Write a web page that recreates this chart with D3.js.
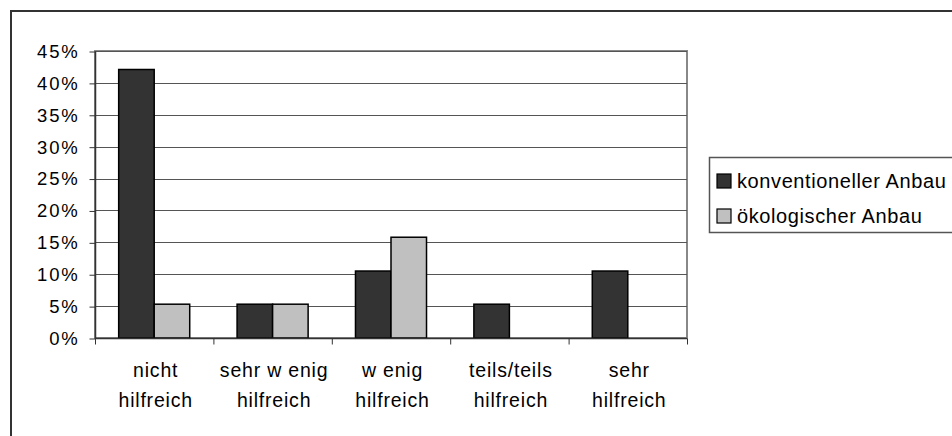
<!DOCTYPE html>
<html>
<head>
<meta charset="utf-8">
<script src="https://cdn.jsdelivr.net/npm/d3@7"></script>
<style>
  html, body { margin: 0; padding: 0; background: #fff; }
  svg { display: block; }
  text { font-family: Arial, "Liberation Sans", sans-serif; fill: #000; }
</style>
</head>
<body>
<svg id="chart" width="952" height="436"></svg>
<script>
const categories = [["nicht", "hilfreich"], ["sehr w enig", "hilfreich"], ["w enig", "hilfreich"], ["teils/teils", "hilfreich"], ["sehr", "hilfreich"]];
const seriesNames = ["konventioneller Anbau", "ökologischer Anbau"];
const konventionell = [42.1, 5.3, 10.5, 5.3, 10.5];
const oekologisch = [5.3, 5.3, 15.8, 0, 0];
const yTicks = [0, 5, 10, 15, 20, 25, 30, 35, 40, 45];
const colors = ["#333333", "#c0c0c0"];

const svg = d3.select("#chart");
const W = 952, H = 436;
const plot = { left: 95, right: 687, top: 51, bottom: 338 };

// outer chart border
svg.append("rect").attr("x", 11).attr("y", 11).attr("width", W + 20).attr("height", H + 20)
  .attr("fill", "#fff").attr("stroke", "#333").attr("stroke-width", 2);

const idx = d3.range(categories.length);
const x0 = d3.scaleBand().domain(idx).range([plot.left, plot.right]).paddingInner(0).paddingOuter(0);
const x1 = d3.scaleBand().domain([0, 1]).range([x0.bandwidth() * 0.2, x0.bandwidth() * 0.8]).padding(0);
const y = d3.scaleLinear().domain([0, 45]).range([plot.bottom, plot.top]);

// plot area border
svg.append("rect").attr("x", plot.left).attr("y", plot.top)
  .attr("width", plot.right - plot.left).attr("height", plot.bottom - plot.top)
  .attr("fill", "none").attr("stroke", "#888").attr("stroke-width", 2);

// gridlines
svg.append("g").selectAll("line").data(yTicks.filter(d => d > 0)).join("line")
  .attr("x1", plot.left).attr("x2", plot.right)
  .attr("y1", d => Math.round(y(d)) + 0.5).attr("y2", d => Math.round(y(d)) + 0.5)
  .attr("stroke", "#555").attr("stroke-width", 1);

// y axis
const yAxis = d3.axisLeft(y).tickValues(yTicks).tickFormat(d => d + "%").tickSize(6).tickPadding(10);
const gy = svg.append("g").attr("transform", `translate(${plot.left + 0.5},0.5)`).call(yAxis);
gy.select(".domain").attr("stroke", "#333").attr("stroke-width", 1.5).attr("d", `M0,${plot.top}V${plot.bottom}`);
gy.selectAll(".tick line").attr("stroke", "#333");
gy.selectAll(".tick text").style("font-size", "18.5px").style("letter-spacing", "1.8px")
  .style("font-family", "Arial, 'Liberation Sans', sans-serif").attr("fill", "#000");

// bars
const groups = svg.append("g").selectAll("g").data(idx).join("g")
  .attr("transform", i => `translate(${x0(i)},0)`);
groups.selectAll("rect").data(i => [konventionell[i], oekologisch[i]].map((v, s) => ({ v, s })).filter(d => d.v > 0)).join("rect")
  .attr("x", d => x1(d.s)).attr("width", x1.bandwidth())
  .attr("y", d => y(d.v)).attr("height", d => y(0) - y(d.v))
  .attr("fill", d => colors[d.s]).attr("stroke", "#000").attr("stroke-width", 1.5);

// x axis
const xAxisScale = d3.scaleLinear().domain([0, categories.length]).range([plot.left, plot.right]);
const gx = svg.append("g").attr("transform", `translate(0,${plot.bottom + 0.5})`)
  .call(d3.axisBottom(xAxisScale).tickValues(d3.range(categories.length + 1)).tickFormat("").tickSize(6));
gx.select(".domain").attr("stroke", "#333").attr("stroke-width", 1.5).attr("d", `M${plot.left},0H${plot.right}`);
gx.selectAll(".tick line").attr("stroke", "#333");

// category labels
const labels = svg.append("g").selectAll("text").data(idx).join("text")
  .attr("x", i => x0(i) + x0.bandwidth() / 2 + 1.5)
  .attr("y", 377)
  .attr("text-anchor", "middle")
  .style("font-size", "19.5px")
  .style("letter-spacing", "0.8px");
labels.selectAll("tspan").data(i => categories[i]).join("tspan")
  .attr("x", function () { return d3.select(this.parentNode).attr("x"); })
  .attr("dy", (d, k) => k === 0 ? 0 : 30)
  .text(d => d);

// legend
const lg = svg.append("g");
lg.append("rect").attr("x", 709.5).attr("y", 157.5).attr("width", 300).attr("height", 75)
  .attr("fill", "#fff").attr("stroke", "#555").attr("stroke-width", 1.5);
const items = lg.selectAll("g").data(seriesNames).join("g")
  .attr("transform", (d, i) => `translate(717,${174 + i * 35})`);
items.append("rect").attr("width", 14).attr("height", 14)
  .attr("fill", (d, i) => colors[i]).attr("stroke", "#000").attr("stroke-width", 1.2);
items.append("text").attr("x", 20).attr("y", 14).style("font-size", "20px").style("letter-spacing", "0.6px").text(d => d);
</script>
</body>
</html>
